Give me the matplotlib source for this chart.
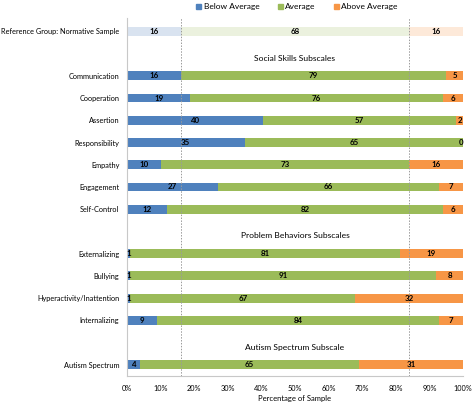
import numpy as np
import matplotlib.pyplot as plt
from matplotlib.patches import Patch

plt.rcParams['font.family'] = ['Lato', 'DejaVu Sans']

# rows, top to bottom (None = section header slot)
row_labels = ['Reference Group: Normative Sample', None,
              'Communication', 'Cooperation', 'Assertion', 'Responsibility',
              'Empathy', 'Engagement', 'Self-Control', None,
              'Externalizing', 'Bullying', 'Hyperactivity/Inattention',
              'Internalizing', None, 'Autism Spectrum']
below = [16, None, 16, 19, 40, 35, 10, 27, 12, None, 1, 1, 1, 9, None, 4]
average = [68, None, 79, 76, 57, 65, 73, 66, 82, None, 81, 91, 67, 84, None, 65]
above = [16, None, 5, 6, 2, 0, 16, 7, 6, None, 19, 8, 32, 7, None, 31]
headers = {1: 'Social Skills Subscales', 9: 'Problem Behaviors Subscales',
           14: 'Autism Spectrum Subscale'}
series_names = ['Below Average', 'Average', 'Above Average']
cutoffs = [16, 84]

colors = ['#4F81BD', '#9BBB59', '#F79646']
light = ['#D9E3F0', '#EBF1DE', '#FDE9D9']

fig = plt.figure(figsize=(4.74, 4.04), dpi=100)
ax = fig.add_axes([127 / 474, 1 - 376 / 404, 336 / 474, (376 - 18) / 404])

for i, lab in enumerate(row_labels):
    if lab is None:
        continue
    vals = np.array([below[i], average[i], above[i]], dtype=float)
    widths = vals / vals.sum() * 100
    left = 0.0
    cols = light if i == 0 else colors
    for k in range(3):
        ax.barh(i, widths[k], left=left, height=0.4, color=cols[k], linewidth=0)
        xc = left + widths[k] / 2
        if k == 2 and vals[k] == 0:
            xc = 99.3
        ax.text(xc, i, f'{int(vals[k])}', ha='center', va='center',
                fontsize=5.7, fontweight='bold', color='black')
        left += widths[k]

for slot, txt in headers.items():
    ax.text(50, slot + 0.2, txt, ha='center', va='center', fontsize=6.1)

for c in cutoffs:
    ax.axvline(c, color='#9a9a9a', linestyle=(0, (1.5, 1.5)), linewidth=0.7)

ax.set_xlim(0, 100)
ax.set_ylim(15.5, -0.6)
ax.set_yticks([i for i, l in enumerate(row_labels) if l is not None])
ax.set_yticklabels([l for l in row_labels if l is not None], fontsize=5.3)
ax.set_xticks(np.arange(0, 101, 10))
ax.set_xticklabels([f'{t}%' for t in range(0, 101, 10)], fontsize=5.3)
ax.tick_params(axis='y', length=0, pad=5.5)
ax.tick_params(axis='x', length=0, pad=6.5)
ax.set_xlabel('Percentage of Sample', fontsize=5.5, labelpad=2.5)
for s in ['top', 'right']:
    ax.spines[s].set_visible(False)
for s in ['left', 'bottom']:
    ax.spines[s].set_color('#c8c8c8')
    ax.spines[s].set_linewidth(0.8)

handles = [Patch(color=c) for c in colors]
fig.legend(handles, series_names, loc='center', bbox_to_anchor=(297 / 474, 1 - 7 / 404),
           ncol=3, frameon=False, fontsize=6, handlelength=0.6, handleheight=0.6,
           handletextpad=0.3, columnspacing=2.2)

fig.savefig('out.png', dpi=100)
